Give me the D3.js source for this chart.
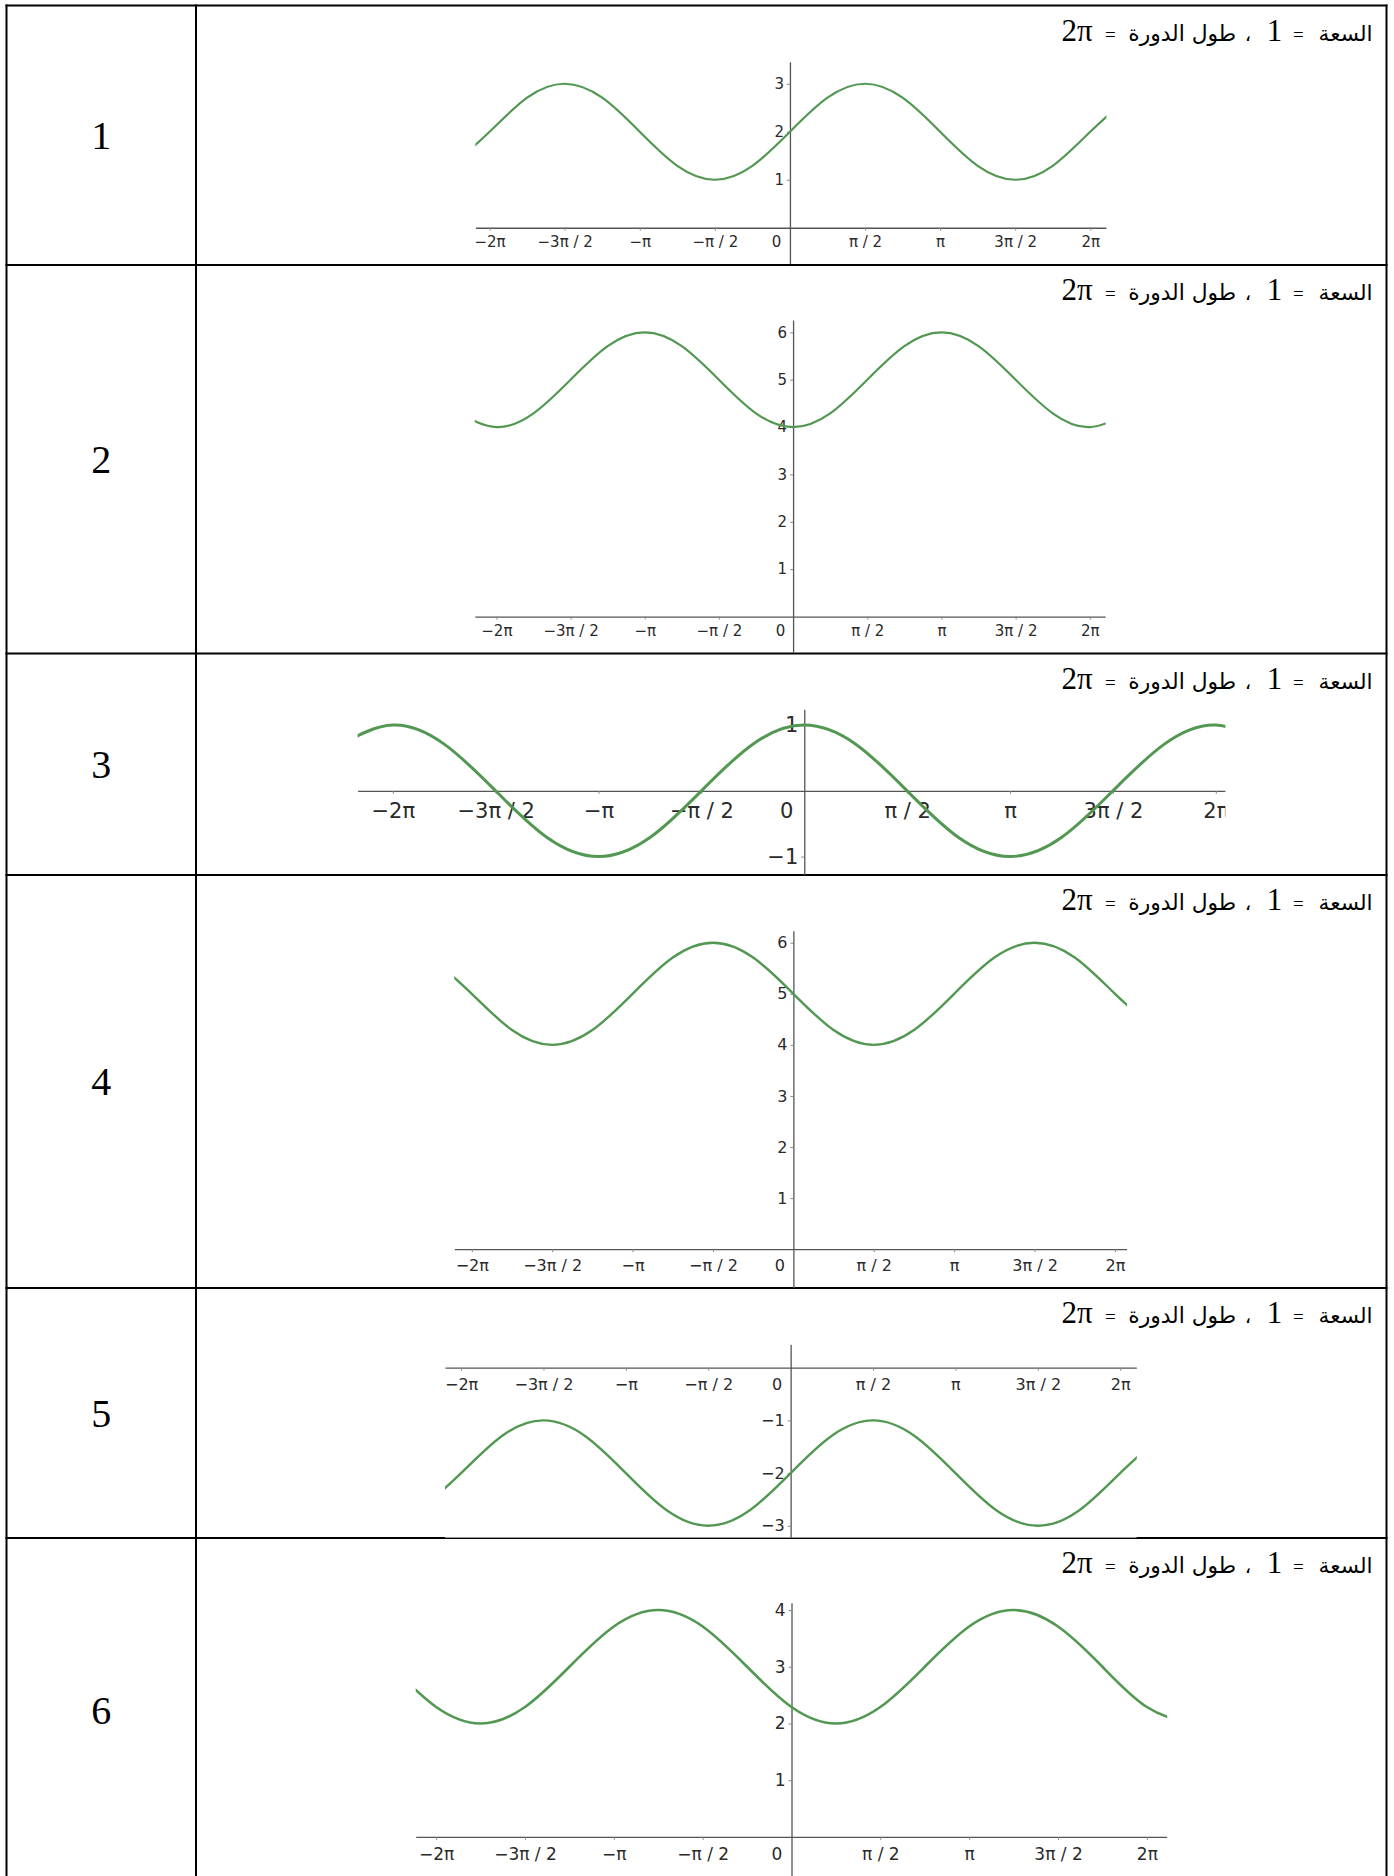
<!DOCTYPE html>
<html>
<head>
<meta charset="utf-8">
<script src="https://cdn.jsdelivr.net/npm/d3@7"></script>
<style>
  body { margin: 0; background: #fff; }
  svg { display: block; }
</style>
</head>
<body>
<svg id="chart" width="1394" height="1876"></svg>
<script>
const PI = Math.PI;

// ---------- data ----------
const rowNumbers = ["1", "2", "3", "4", "5", "6"];
// title pieces, in visual order from right to left
const titleParts = ["السعة", "=", "1", "،", "طول الدورة", "=", "2π"];

const xTickSteps = [-4, -3, -2, -1, 0, 1, 2, 3, 4];           // multiples of π/2
const xTickLabels = ["−2π", "−3π / 2", "−π", "−π / 2", "0", "π / 2", "π", "3π / 2", "2π"];

// sample positions, in multiples of π/4 (the outermost ones lie just past the visible edges)
const sampleSteps = [-9, -8, -7, -6, -5, -4, -3, -2, -1, 0, 1, 2, 3, 4, 5, 6, 7, 8, 9];

// curve values read at the sample positions
const curve1 = [1.29, 2, 2.71, 3, 2.71, 2, 1.29, 1, 1.29, 2, 2.71, 3, 2.71, 2, 1.29, 1, 1.29, 2, 2.71];
const curve2 = [4.29, 4, 4.29, 5, 5.71, 6, 5.71, 5, 4.29, 4, 4.29, 5, 5.71, 6, 5.71, 5, 4.29, 4, 4.29];
const curve3 = [0.71, 1, 0.71, 0, -0.71, -1, -0.71, 0, 0.71, 1, 0.71, 0, -0.71, -1, -0.71, 0, 0.71, 1, 0.71];
const curve4 = [5.71, 5, 4.29, 4, 4.29, 5, 5.71, 6, 5.71, 5, 4.29, 4, 4.29, 5, 5.71, 6, 5.71, 5, 4.29];
const curve5 = [-2.71, -2, -1.29, -1, -1.29, -2, -2.71, -3, -2.71, -2, -1.29, -1, -1.29, -2, -2.71, -3, -2.71, -2, -1.29];
const curve6 = [3, 2.29, 2, 2.29, 3, 3.71, 4, 3.71, 3, 2.29, 2, 2.29, 3, 3.71, 4, 3.71, 3, 2.29, 2];

const yTicks1 = [1, 2, 3];
const yTicks2 = [1, 2, 3, 4, 5, 6];
const yTicks3 = [-1, 1];
const yTicks4 = [1, 2, 3, 4, 5, 6];
const yTicks5 = [-3, -2, -1];
const yTicks6 = [1, 2, 3, 4];

// ---------- layout ----------
const W = 1394, H = 1876;
const rowEdges = [5.5, 265, 653.5, 875, 1288, 1538];
const colEdges = [6.5, 196, 1386.5];
const titleRight = 1371;
// centre offsets (from the right edge) of each title piece
const titleOffsets = [25.4, 72.7, 96.6, 123, 188.8, 260.6, 294];
const titleArabicWidths = {0: 54, 4: 108};

const panels = [
  { values: curve1, yTicks: yTicks1, left: 475.4, right: 1106.4, top: 61.7, bottom: 264.2,
    xDomain: [-6.58, 6.62], yDomain: [-0.76, 3.46], font: 15, pad: 5.8, zeroDx: -14, lw: 2.2 },
  { values: curve2, yTicks: yTicks2, left: 474.8, right: 1105.7, top: 320, bottom: 653,
    xDomain: [-6.74, 6.62], yDomain: [-0.77, 6.26], font: 15, pad: 5.8, zeroDx: -13, lw: 2.2 },
  { values: curve3, yTicks: yTicks3, left: 357.6, right: 1225.4, top: 709.3, bottom: 875,
    xDomain: [-6.82, 6.43], yDomain: [-1.28, 1.24], font: 21, pad: 9.3, zeroDx: -18, lw: 3 },
  { values: curve4, yTicks: yTicks4, left: 454.3, right: 1127.1, top: 930.7, bottom: 1288,
    xDomain: [-6.625, 6.52], yDomain: [-0.76, 6.235], font: 16, pad: 7.8, zeroDx: -14, lw: 2.4 },
  { values: curve5, yTicks: yTicks5, left: 445, right: 1136.8, top: 1344.3, bottom: 1537.8,
    xDomain: [-6.59, 6.60], yDomain: [-3.228, 0.444], font: 16, pad: 7.7, zeroDx: -14, lw: 2.4, bg: true },
  { values: curve6, yTicks: yTicks6, left: 415.7, right: 1167.2, top: 1602.7, bottom: 1876,
    xDomain: [-6.645, 6.643], yDomain: [-0.69, 4.13], font: 17, pad: 8.3, zeroDx: -15, lw: 2.6 }
];

const curveColor = "#529852";
const axisColor = "#555555";
const labelColor = "#2a2a2a";
const sansFont = "'DejaVu Sans', 'Liberation Sans', sans-serif";

const svg = d3.select("#chart");
svg.append("rect").attr("width", W).attr("height", H).attr("fill", "#fff");

// ---------- table borders ----------
const border = svg.append("g").attr("stroke", "#000").attr("stroke-width", 2);
colEdges.forEach(x => border.append("line").attr("x1", x).attr("x2", x).attr("y1", rowEdges[0] - 1).attr("y2", H));
rowEdges.forEach(y => border.append("line").attr("x1", colEdges[0] - 1).attr("x2", colEdges[2] + 1).attr("y1", y).attr("y2", y));

// ---------- row numbers ----------
const rowBottoms = rowEdges.slice(1).concat([1883]);
rowNumbers.forEach((n, i) => {
  svg.append("text")
    .attr("x", (colEdges[0] + colEdges[1]) / 2)
    .attr("y", (rowEdges[i] + rowBottoms[i]) / 2)
    .attr("dy", "0.34em")
    .attr("text-anchor", "middle")
    .attr("font-family", "'Liberation Serif', 'Times New Roman', serif")
    .attr("font-size", 40)
    .attr("fill", "#000")
    .text(n);
});

// ---------- titles ----------
rowEdges.forEach((top, r) => {
  const base = top + 35;
  titleParts.forEach((p, i) => {
    const t = svg.append("text")
      .attr("x", titleRight - titleOffsets[i])
      .attr("y", base)
      .attr("text-anchor", "middle")
      .attr("fill", "#000")
      .text(p);
    if (p === "1" || p === "2π") {
      t.attr("font-family", "'Liberation Serif', 'Times New Roman', serif").attr("font-size", 31);
    } else if (p === "=") {
      t.attr("font-family", "'Liberation Serif', serif").attr("font-size", 19);
    } else {
      t.attr("font-family", "'DejaVu Sans', sans-serif").attr("font-size", 20).attr("direction", "rtl");
      if (titleArabicWidths[i]) {
        const len = t.node().getComputedTextLength();
        if (len > 0) t.attr("font-size", 20 * titleArabicWidths[i] / len);
      }
    }
  });
});

// ---------- charts ----------
panels.forEach((p, idx) => {
  const x = d3.scaleLinear().domain(p.xDomain).range([p.left, p.right]);
  const y = d3.scaleLinear().domain(p.yDomain).range([p.bottom, p.top]);

  const clipId = "clip" + idx;
  svg.append("clipPath").attr("id", clipId)
    .append("rect")
    .attr("x", p.left).attr("y", p.top)
    .attr("width", p.right - p.left).attr("height", p.bottom - p.top);

  const g = svg.append("g").attr("clip-path", `url(#${clipId})`);
  if (p.bg) {
    g.append("rect").attr("x", p.left).attr("y", p.top)
      .attr("width", p.right - p.left).attr("height", p.bottom - p.top).attr("fill", "#fff");
  }

  // x axis
  const xAxis = d3.axisBottom(x)
    .tickValues(xTickSteps.map(k => k * PI / 2))
    .tickFormat((d, i) => xTickLabels[i])
    .tickSize(3)
    .tickSizeOuter(0)
    .tickPadding(p.pad);
  const gx = g.append("g").attr("transform", `translate(0,${y(0)})`).call(xAxis);
  gx.select(".domain").attr("stroke", axisColor).attr("stroke-width", 1.3);
  gx.selectAll(".tick line").attr("stroke", "#8a8a8a").attr("stroke-width", 1);
  gx.selectAll(".tick text")
    .attr("font-family", sansFont).attr("font-size", p.font).attr("fill", labelColor)
    .attr("dx", (d, i) => xTickSteps[i] === 0 ? p.zeroDx : 0);
  gx.selectAll(".tick").filter((d, i) => xTickSteps[i] === 0).select("line").remove();

  // y axis
  const yAxis = d3.axisLeft(y)
    .tickValues(p.yTicks)
    .tickFormat(d => d < 0 ? "−" + Math.abs(d) : String(d))
    .tickSize(3)
    .tickSizeOuter(0)
    .tickPadding(3);
  const gy = g.append("g").attr("transform", `translate(${x(0)},0)`).call(yAxis);
  gy.select(".domain").attr("stroke", axisColor).attr("stroke-width", 1.3);
  gy.selectAll(".tick line").attr("stroke", "#8a8a8a").attr("stroke-width", 1);
  gy.selectAll(".tick text")
    .attr("font-family", sansFont).attr("font-size", p.font).attr("fill", labelColor);

  // curve
  const pts = sampleSteps.map((k, i) => [k * PI / 4, p.values[i]]);
  const line = d3.line().x(d => x(d[0])).y(d => y(d[1])).curve(d3.curveNatural);
  g.append("path")
    .datum(pts)
    .attr("d", line)
    .attr("fill", "none")
    .attr("stroke", curveColor)
    .attr("stroke-width", p.lw)
    .attr("stroke-linejoin", "round");
});
</script>
</body>
</html>
